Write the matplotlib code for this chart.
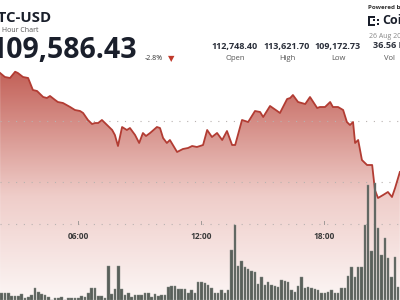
import numpy as np
import matplotlib
matplotlib.use("Agg")
import matplotlib.pyplot as plt
from matplotlib.colors import LinearSegmentedColormap
from matplotlib.patches import Rectangle

# price trace (visible window only)
price_times = ["02:12", "02:26", "02:41", "02:56", "03:04", "03:19", "03:34", "03:48",
               "04:00", "04:18", "04:29", "04:38", "04:53", "05:01", "05:16", "05:37",
               "05:51", "06:06", "06:15", "06:29", "06:41", "06:50", "06:59", "07:10",
               "07:25", "07:40", "07:48", "07:57", "08:09", "08:23", "08:32", "08:47",
               "08:59", "09:10", "09:19", "09:31", "09:51", "10:00", "10:09", "10:20",
               "10:29", "10:50", "11:07", "11:22", "11:34", "11:48", "11:57", "12:06",
               "12:18", "12:32", "12:47", "13:02", "13:16", "13:31", "13:40", "14:00",
               "14:18", "14:38", "14:53", "15:02", "15:22", "15:43", "15:51", "16:12",
               "16:21", "16:29", "16:44", "17:05", "17:19", "17:40", "17:48", "18:03",
               "18:18", "18:26", "18:41", "18:56", "19:07", "19:16", "19:25", "19:31",
               "19:40", "19:51", "20:06", "20:21", "20:29", "20:38", "20:53", "21:07",
               "21:19", "21:28", "21:42"]
price = [113574, 113443, 113410, 113615, 113574, 113443, 113410, 113016, 112984, 112787,
         112754, 112820, 112689, 112623, 112590, 112459, 112361, 112328, 112262, 112033,
         111902, 111934, 111934, 112033, 111869, 111705, 111541, 111180, 111803, 111705,
         111770, 111541, 111279, 111607, 111508, 111607, 111803, 111770, 111443, 111279,
         111377, 110984, 111082, 111115, 111180, 111148, 111180, 111213, 111705, 111475,
         111607, 111377, 111672, 111213, 111213, 112033, 111967, 112328, 112295, 112131,
         112492, 112328, 112262, 112721, 112754, 112852, 112623, 112557, 112787, 112426,
         112459, 112459, 112623, 112459, 112459, 112361, 111967, 111869, 111967, 111279,
         111377, 110721, 110557, 110557, 109738, 109475, 109574, 109672, 109508, 109803,
         110328]

# volume per bar (arbitrary units)
volume = [7, 7, 7, 4, 4, 4, 6, 2, 3, 5, 12, 8, 6, 5, 3, 0, 2, 2, 3, 0,
          2, 2, 2, 2, 4, 3, 7, 12, 12, 4, 4, 2, 34, 6, 11, 34, 11, 5, 7, 3,
          5, 5, 5, 7, 7, 3, 6, 4, 5, 5, 13, 14, 14, 11, 11, 11, 7, 10, 7, 18,
          18, 17, 15, 12, 7, 7, 10, 7, 10, 50, 75, 34, 39, 33, 31, 29, 28, 16, 23, 15,
          18, 15, 14, 13, 20, 19, 18, 10, 8, 14, 23, 12, 13, 12, 11, 10, 7, 7, 8, 10,
          7, 7, 12, 12, 24, 33, 23, 33, 33, 75, 115, 49, 117, 72, 45, 62, 42, 23, 43, 13]

tick_hours = [6, 12, 18]
tick_labels = ["06:00", "12:00", "18:00"]
grid_prices = [112000, 110000]

stat_values = ["112,748.40", "113,621.70", "109,172.73", "36.56 B"]
stat_names = ["Open", "High", "Low", "Vol"]

FONT = "Open Sans"
x_lo, x_hi = 2.195, 21.707
y_lo, y_hi = 106131, 115967

hours = [int(t[:2]) + int(t[3:]) / 60 for t in price_times]

fig = plt.figure(figsize=(4, 3), dpi=100)
ax = fig.add_axes([0, 0, 1, 1])
ax.axis("off")

# gradient area under price
fill = ax.fill_between(hours, price, y_lo, color="none", lw=0)
cmap = LinearSegmentedColormap.from_list(
    "area", [(0, "#fcf6f5"), (0.45, "#efcdc9"), (1, "#c25f56")])
grad = np.linspace(0, 1, 256).reshape(-1, 1)
im = ax.imshow(grad, extent=[x_lo, x_hi, y_lo, 113700], origin="lower",
               aspect="auto", cmap=cmap, zorder=1)
im.set_clip_path(fill.get_paths()[0], transform=ax.transData)
ax.set_xlim(x_lo, x_hi)
ax.set_ylim(y_lo, y_hi)

for g in grid_prices:
    ax.axhline(g, color="#b9b2b0", lw=0.8, ls=(0, (1, 6)), zorder=2)

ax.plot(hours, price, color="#b23c33", lw=1.3, zorder=3)

# time axis line with ticks and labels
xt = ax.get_xaxis_transform()
ax.plot([x_lo, x_hi], [0.2533, 0.2533], transform=xt, color="#b9b2b0",
        lw=0.8, ls=(0, (1, 6)), zorder=2)
for h, lab in zip(tick_hours, tick_labels):
    ax.plot([h, h], [0.2533, 0.265], transform=xt, color="#a09a98", lw=0.7, zorder=2)
    ax.text(h, 0.213, lab, transform=xt, ha="center", va="center",
            fontsize=6, fontweight="bold", color="#3a3a3a", family=FONT)

# volume bars
axv = ax.twinx()
axv.set_ylim(0, 300)
axv.axis("off")
bar_step = 9.75 / 60
bar_x = x_lo + 0.083 + bar_step * np.arange(len(volume))
axv.bar(bar_x, volume, width=bar_step * 0.75, color="#59605a",
        edgecolor="#858b86", lw=0.3, zorder=4)


def px(x, y):
    return x / 400, 1 - y / 300


# header (the source image is a crop, so the left and right texts run off the edge)
fig.text(*px(52, 18), "BTC-USD", ha="right", va="center", fontsize=10.8,
         fontweight="bold", color="#1a1f2b", family=FONT)
fig.text(*px(38, 30), "24 Hour Chart", ha="right", va="center", fontsize=5,
         color="#555555", family=FONT)
fig.text(*px(137, 50), "109,586.43", ha="right", va="center", fontsize=20.5,
         fontweight="bold", color="#1a1f2b", family=FONT)
fig.text(*px(145, 59), "-2.8%", ha="left", va="center", fontsize=5,
         color="#333333", family=FONT)
fig.text(*px(171, 59), "\u25BC", ha="center", va="center", fontsize=6,
         color="#c0392b", family="DejaVu Sans")

for cx, val, name in zip([235, 287, 338, 389], stat_values, stat_names):
    fig.text(*px(cx, 46), val, ha="center", va="center", fontsize=6.5,
             fontweight="bold", color="#2a2f3a", family=FONT)
    fig.text(*px(cx, 58), name, ha="center", va="center", fontsize=5.5,
             color="#555555", family=FONT)

fig.text(*px(368, 7), "Powered by", ha="left", va="center", fontsize=4.5,
         fontweight="bold", color="#333333", family=FONT)
fig.text(*px(382, 21), "CoinDesk", ha="left", va="center", fontsize=9,
         fontweight="bold", color="#1a1f2b", family=FONT)
fig.text(*px(369, 37), "26 Aug 2025", ha="left", va="center", fontsize=5,
         color="#888888", family=FONT)

# logo mark
for (lx, ly, w, h) in [(368, 16, 2, 10), (368, 16, 7, 2), (368, 24, 7, 2),
                       (373, 19, 2, 2), (377, 19, 2, 2), (377, 23, 2, 2)]:
    fx, fy = px(lx, ly + h)
    fig.patches.append(Rectangle((fx, fy), w / 400, h / 300, transform=fig.transFigure,
                                 color="#1a1f2b", lw=0))

fig.savefig("out.png", dpi=100)
